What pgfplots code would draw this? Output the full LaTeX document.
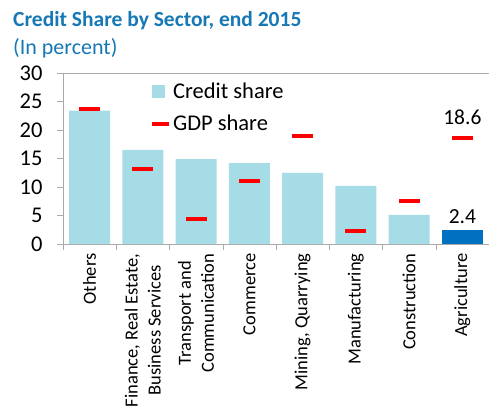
\documentclass[border=0pt]{standalone}
\usepackage{pgfplots}
\pgfplotsset{compat=1.18}
\usepackage{fontspec}
\setmainfont{Carlito}
\definecolor{titleblue}{RGB}{22,120,180}
\definecolor{barblue}{RGB}{166,220,230}
\definecolor{agriblue}{RGB}{0,112,192}
\definecolor{axisgray}{RGB}{170,170,170}
\begin{document}
\begin{tikzpicture}
\useasboundingbox (-63pt,-165pt) rectangle (426pt,244pt);
\node[anchor=base west, text=titleblue, font=\fontsize{21.5}{24}\selectfont\bfseries, inner sep=0pt] at (-50pt,217pt) {Credit Share by Sector, end 2015};
\node[anchor=base west, text=titleblue, font=\fontsize{22}{25}\selectfont, inner sep=0pt] at (-50pt,189pt) {(In percent)};
\begin{axis}[
  at={(0pt,0pt)}, anchor=south west,
  scale only axis, width=426pt, height=171pt,
  xmin=-0.5, xmax=7.5, ymin=0, ymax=30,
  ytick={0,5,...,30},
  xtick={0,...,7},
  xticklabels={Others, {Finance, Real Estate,\\Business Services}, {Transport and\\Communication}, Commerce, {Mining, Quarrying}, Manufacturing, Construction, Agriculture},
  minor xtick={-0.5,0.5,...,7.5},
  major x tick style={draw=none},
  minor x tick style={axisgray},
  y tick style={axisgray},
  tick align=outside,
  major tick length=6pt, minor tick length=6pt,
  xtick pos=bottom, ytick pos=left,
  axis x line*=bottom, axis y line*=left,
  axis line style={axisgray, -},
  /pgf/number format/assume math mode=true,
  yticklabel style={font=\fontsize{22.5}{24}\selectfont, text=black, xshift=-11pt},
  xticklabel style={rotate=90, anchor=east, align=center, font=\fontsize{18.5}{23}\selectfont, text=black},
  legend style={at={(rel axis cs:0.204,0.955)}, anchor=north west, draw=none, fill=none,
    font=\fontsize{22.5}{26}\selectfont, inner sep=0pt, row sep=11pt},
  legend cell align=left,
  clip=false,
]
\draw[axisgray] (rel axis cs:0,1) -- (rel axis cs:1,1);
\addplot[ybar, bar width=41pt, bar shift=0pt, fill=barblue, draw=none,
  legend image code/.code={\fill[barblue] (0pt,-6.5pt) rectangle (13pt,6.5pt); \path (0pt,0pt) -- (17pt,0pt);}]
  coordinates {(0,23.4) (1,16.5) (2,14.9) (3,14.2) (4,12.5) (5,10.2) (6,5.1)};
\addlegendentry{Credit share}
\addplot[only marks, mark=-, mark size=10.5pt, color=red, line width=4pt,
  legend image code/.code={\draw[red, line width=4pt] (4pt,0pt) -- (13pt,0pt); \path (0pt,0pt) -- (17pt,0pt);}]
  coordinates {(0,23.7) (1,13.2) (2,4.4) (3,11.0) (4,18.9) (5,2.3) (6,7.5) (7,18.6)};
\addlegendentry{GDP share}
\addplot[ybar, bar width=41pt, bar shift=0pt, fill=agriblue, draw=none, forget plot,
  nodes near coords, nodes near coords style={anchor=base, yshift=7pt, inner sep=0pt, font=\fontsize{21.5}{24}\selectfont, text=black}]
  coordinates {(7,2.4)};
\addplot[only marks, mark=none, forget plot,
  nodes near coords, nodes near coords style={anchor=base, yshift=13pt, inner sep=0pt, font=\fontsize{21.5}{24}\selectfont, text=black}]
  coordinates {(7,18.6)};
\end{axis}
\end{tikzpicture}
\end{document}
